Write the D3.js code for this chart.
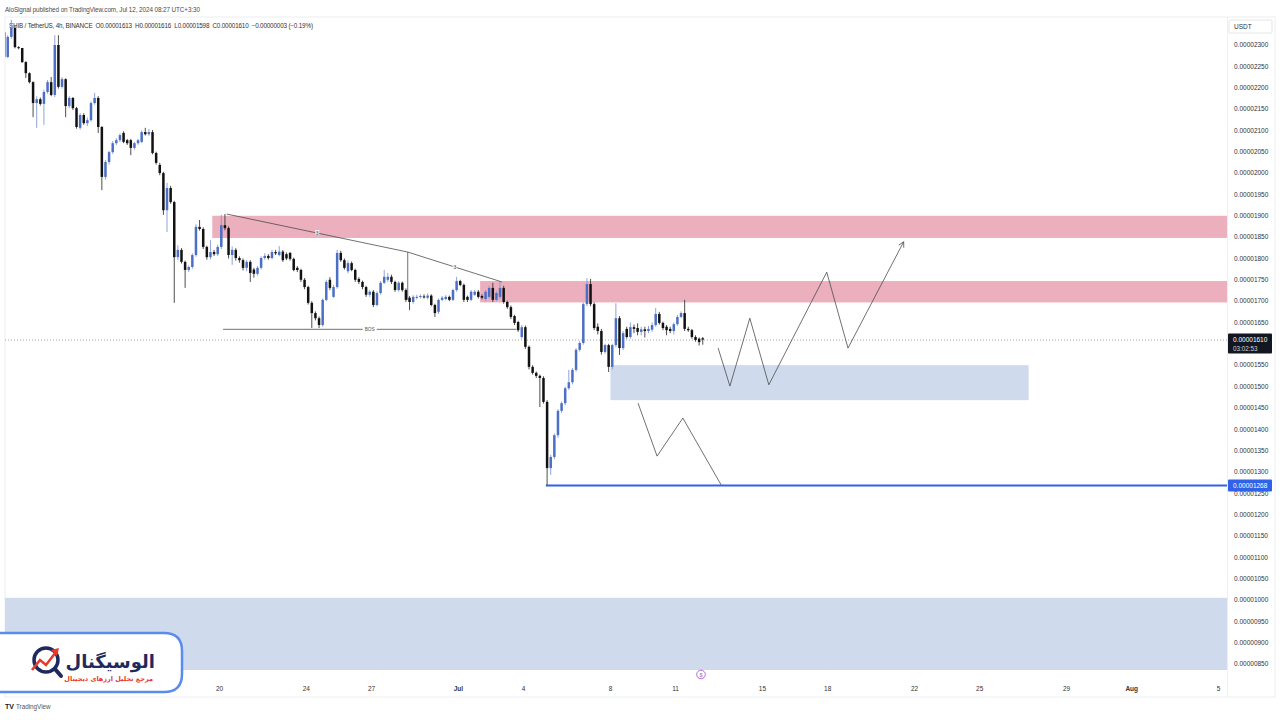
<!DOCTYPE html>
<html><head><meta charset="utf-8">
<script src="https://cdn.jsdelivr.net/npm/d3@7"></script>
<style>
body{margin:0;background:#fff;}
svg{display:block;font-family:"Liberation Sans","DejaVu Sans",sans-serif;}
</style>
</head><body>
<svg id="c" width="1280" height="720"></svg>
<script>
// ---------- DATA (prices in units of 1e-8 USDT) ----------
const UNIT = 1e-8;
const firstCandle = "2024-06-10T02:00:00Z";
const candleHours = 4;
const opens = [2330,2272,2319,2340,2295,2293,2260,2234,2213,2164,2173,2162,2190,2213,2183,2300,2202,2220,2157,2176,
2152,2106,2136,2117,2124,2164,2176,2108,1991,2026,2049,2070,2077,2094,2077,2077,2059,2070,2073,2096,
2091,2096,2047,2019,2000,1913,1965,1932,1803,1820,1792,1773,1780,1808,1874,1869,1827,1803,1815,1810,
1827,1878,1871,1808,1820,1801,1796,1778,1792,1774,1764,1778,1801,1806,1801,1815,1808,1816,1810,1813,
1799,1778,1773,1750,1733,1696,1672,1660,1644,1703,1750,1710,1733,1813,1796,1770,1789,1773,1752,1745,
1733,1715,1722,1691,1719,1743,1750,1757,1745,1726,1743,1726,1708,1698,1708,1710,1711,1708,1713,1691,
1675,1703,1705,1710,1703,1726,1747,1738,1710,1703,1715,1722,1712,1705,1710,1731,1703,1710,1731,1698,
1686,1665,1651,1616,1639,1593,1546,1532,1525,1520,1464,1309,1335,1386,1443,1461,1496,1510,1539,1586,
1602,1693,1740,1693,1640,1630,1581,1597,1546,1597,1660,1590,1635,1616,1639,1637,1628,1634,1630,1633,
1644,1670,1649,1640,1635,1630,1646,1663,1672,1635,1632,1616,1612,1613];
const highs = [2340,2323,2359,2345,2297,2293,2262,2236,2215,2180,2177,2195,2218,2225,2323,2323,2225,2222,2180,2178,
2155,2140,2140,2130,2168,2188,2180,2110,2030,2052,2075,2082,2093,2098,2080,2080,2073,2080,2100,2106,
2103,2101,2050,2024,2003,1977,1970,1935,1831,1824,1795,1784,1812,1880,1890,1873,1830,1843,1820,1832,
1902,1904,1875,1828,1824,1805,1800,1796,1796,1778,1782,1805,1812,1810,1820,1820,1829,1820,1814,1815,
1802,1782,1776,1754,1736,1700,1676,1664,1706,1750,1756,1738,1820,1818,1800,1795,1793,1776,1756,1748,
1736,1726,1726,1723,1747,1773,1766,1762,1748,1747,1746,1730,1712,1714,1715,1716,1716,1718,1716,1694,
1706,1712,1714,1713,1729,1757,1750,1741,1713,1726,1726,1726,1716,1726,1736,1743,1724,1745,1736,1701,
1690,1668,1654,1644,1643,1596,1550,1535,1528,1524,1468,1340,1390,1447,1465,1500,1539,1543,1590,1606,
1697,1754,1752,1697,1648,1635,1600,1600,1600,1695,1665,1630,1640,1650,1645,1648,1640,1640,1642,1650,
1684,1675,1652,1644,1640,1650,1668,1676,1703,1640,1635,1620,1615,1616];
const lows = [2269,2269,2315,2292,2290,2258,2223,2210,2131,2106,2158,2113,2186,2180,2178,2198,2198,2131,2152,2148,
2104,2102,2113,2110,2120,2160,2094,1960,1985,2020,2045,2066,2073,2070,2066,2042,2055,2066,2070,2088,
2087,2044,2020,1995,1902,1862,1928,1696,1796,1788,1731,1768,1776,1804,1865,1822,1797,1798,1806,1806,
1822,1866,1800,1785,1795,1790,1772,1770,1745,1755,1760,1774,1797,1797,1798,1808,1805,1792,1796,1795,
1770,1768,1745,1728,1692,1637,1655,1637,1640,1700,1726,1708,1729,1792,1774,1765,1770,1745,1740,1728,
1710,1710,1686,1688,1715,1740,1745,1740,1722,1722,1722,1698,1679,1694,1704,1706,1706,1704,1688,1663,
1670,1700,1702,1700,1700,1722,1735,1698,1698,1700,1712,1706,1704,1700,1706,1698,1700,1706,1694,1682,
1658,1644,1628,1612,1588,1540,1528,1520,1452,1460,1269,1293,1330,1380,1438,1456,1492,1505,1535,1582,
1598,1688,1688,1632,1622,1575,1577,1534,1540,1592,1574,1585,1612,1612,1625,1620,1620,1615,1625,1628,
1640,1645,1632,1620,1625,1622,1642,1660,1630,1628,1612,1605,1596,1598];
const closes = [2272,2319,2340,2295,2293,2260,2234,2213,2164,2173,2162,2190,2213,2183,2300,2202,2220,2157,2176,2152,
2108,2136,2117,2124,2164,2176,2108,1991,2026,2049,2070,2077,2089,2073,2070,2059,2070,2077,2096,2091,
2096,2047,2024,2000,1913,1965,1932,1803,1820,1792,1773,1780,1808,1874,1869,1827,1803,1815,1810,1827,
1878,1871,1808,1820,1801,1796,1778,1792,1766,1764,1778,1801,1806,1801,1815,1812,1816,1796,1800,1799,
1773,1773,1750,1733,1696,1672,1660,1644,1703,1745,1731,1733,1813,1796,1778,1789,1773,1750,1745,1733,
1715,1722,1691,1719,1743,1757,1757,1745,1726,1743,1726,1703,1698,1710,1710,1712,1710,1713,1691,1672,
1703,1708,1710,1703,1726,1747,1738,1703,1703,1722,1722,1710,1708,1722,1731,1703,1719,1731,1698,1686,
1663,1649,1632,1639,1593,1546,1532,1525,1520,1464,1309,1335,1386,1443,1461,1496,1510,1539,1586,1602,
1693,1740,1693,1637,1630,1581,1597,1546,1597,1660,1590,1625,1616,1639,1635,1628,1634,1630,1635,1644,
1670,1649,1637,1632,1630,1646,1663,1672,1635,1632,1616,1609,1604,1610];

const priceTicks = d3.range(850, 2301, 50);
const timeTicks = [["2024-06-20","20"],["2024-06-24","24"],["2024-06-27","27"],["2024-07-01","Jul"],["2024-07-04","4"],
  ["2024-07-08","8"],["2024-07-11","11"],["2024-07-15","15"],["2024-07-18","18"],["2024-07-22","22"],
  ["2024-07-25","25"],["2024-07-29","29"],["2024-08-01","Aug"],["2024-08-05","5"]];
const supplyFrom = ["2024-06-19T16:00Z","2024-07-02T00:00Z"];
const supplyTop = [1900, 1747];
const supplyBottom = [1848, 1697];
const demandZone = ["2024-07-08T00:00Z","2024-07-27T06:00Z", 1550, 1468];
const deepZone = [1005, 836];
const supportPrice = 1268;
const trendLine = [["2024-06-20T08:00Z",1904],["2024-06-28T16:00Z",1815],["2024-07-03T00:00Z",1745]];
const trendDrop = [["2024-06-28T16:00Z",1815],["2024-06-28T16:00Z",1703]];
const bosLine = [["2024-06-20T04:00Z",1634],["2024-07-03T16:00Z",1634]];
const pathUp = [["2024-07-12T23:00Z",1590],["2024-07-13T12:00Z",1501],["2024-07-14T10:00Z",1660],["2024-07-15T07:00Z",1504],
  ["2024-07-17T23:00Z",1768],["2024-07-18T22:30Z",1590],["2024-07-21T12:00Z",1839]];
const pathDown = [["2024-07-09T06:30Z",1461],["2024-07-10T03:30Z",1337],["2024-07-11T08:00Z",1426],["2024-07-13T03:00Z",1267]];
const header1 = "AloSignal published on TradingView.com, Jul 12, 2024 08:27 UTC+3:30";
const header2 = "SHIB / TetherUS, 4h, BINANCE  O0.00001613  H0.00001616  L0.00001598  C0.00001610  \u22120.00000003 (\u22120.19%)";

// ---------- LAYOUT ----------
const svg = d3.select("#c");
const paneL = 5, paneR = 1227, paneT = 17, paneB = 680;
const x = d3.scaleUtc().domain([new Date("2024-06-20T00:00:00Z"), new Date("2024-08-05T00:00:00Z")]).range([219.5, 1218.6]);
const y = d3.scaleLinear().domain([850, 2300]).range([664, 45]);
const fmt = v => (v*UNIT).toFixed(8);
const t0 = new Date(firstCandle).getTime();
const candles = opens.map((o,i)=>({t:new Date(t0 + i*candleHours*3600e3), o, h:highs[i], l:lows[i], c:closes[i]}));
const D = s => new Date(s);

svg.append("defs").append("clipPath").attr("id","pane").append("rect")
  .attr("x",paneL).attr("y",paneT).attr("width",paneR-paneL).attr("height",paneB-paneT);

// frame
svg.append("rect").attr("x",paneL).attr("y",paneT).attr("width",1275-paneL).attr("height",697-paneT)
  .attr("fill","none").attr("stroke","#eceef2").attr("stroke-width",1);
svg.append("line").attr("x1",paneR+0.5).attr("x2",paneR+0.5).attr("y1",paneT).attr("y2",697).attr("stroke","#eceef2");

// header
svg.append("text").attr("x",5).attr("y",12).attr("font-size",6.3).attr("fill","#4a4a4a").attr("textLength",195).text(header1);
svg.append("text").attr("x",9).attr("y",28).attr("font-size",6.3).attr("fill","#333").attr("textLength",304).attr("xml:space","preserve").text(header2);

const pane = svg.append("g").attr("clip-path","url(#pane)");

// zones
pane.append("rect").attr("x",paneL).attr("width",paneR-paneL).attr("y",y(deepZone[0])).attr("height",y(deepZone[1])-y(deepZone[0])).attr("fill","#cfdaec");
supplyFrom.forEach((f,i)=>{
  pane.append("rect").attr("x",x(D(f))).attr("width",paneR-x(D(f))).attr("y",y(supplyTop[i]))
    .attr("height",y(supplyBottom[i])-y(supplyTop[i])).attr("fill","#ebafbd");
});
pane.append("rect").attr("x",x(D(demandZone[0]))).attr("width",x(D(demandZone[1]))-x(D(demandZone[0])))
  .attr("y",y(demandZone[2])).attr("height",y(demandZone[3])-y(demandZone[2])).attr("fill","#cfdaec");

// current price dotted line
const last = candles[candles.length-1];
pane.append("line").attr("x1",paneL).attr("x2",paneR).attr("y1",y(last.c)+0.5).attr("y2",y(last.c)+0.5)
  .attr("stroke","#8a8d96").attr("stroke-dasharray","1,2").attr("stroke-width",0.8);

// drawings
const line = d3.line().x(d=>x(D(d[0]))).y(d=>y(d[1]));
const drawCol = "#4d4d4d";
[trendLine, trendDrop, bosLine, pathUp, pathDown].forEach(p=>{
  pane.append("path").attr("d",line(p)).attr("fill","none").attr("stroke",drawCol).attr("stroke-width",0.8);
});
// labels on trendline
for (let i=0;i<trendLine.length-1;i++){
  const mx=(x(D(trendLine[i][0]))+x(D(trendLine[i+1][0])))/2, my=(y(trendLine[i][1])+y(trendLine[i+1][1]))/2;
  pane.append("rect").attr("x",mx-2).attr("y",my-3).attr("width",4).attr("height",5).attr("fill","#fff").attr("opacity",0.8);
  pane.append("text").attr("x",mx).attr("y",my+1.8).attr("text-anchor","middle").attr("font-size",5).attr("fill","#444").text("3");
}
{
  const mx=(x(D(bosLine[0][0]))+x(D(bosLine[1][0])))/2, my=y(bosLine[0][1]);
  pane.append("rect").attr("x",mx-7).attr("y",my-3).attr("width",14).attr("height",5).attr("fill","#fff");
  pane.append("text").attr("x",mx).attr("y",my+1.8).attr("text-anchor","middle").attr("font-size",4.8).attr("fill","#555").text("BOS");
}
// arrowhead on projected path
{
  const a = pathUp[pathUp.length-2], b = pathUp[pathUp.length-1];
  const x1=x(D(a[0])), y1=y(a[1]), x2=x(D(b[0])), y2=y(b[1]);
  const ang=Math.atan2(y2-y1,x2-x1), L=6;
  [-0.5,0.5].forEach(da=>{
    pane.append("line").attr("x1",x2).attr("y1",y2).attr("x2",x2-L*Math.cos(ang+da)).attr("y2",y2-L*Math.sin(ang+da))
      .attr("stroke",drawCol).attr("stroke-width",0.8);
  });
}

// support line
let lowIdx = d3.minIndex(candles, d=>d.l);
const bw = 2.5;
pane.append("line").attr("x1",x(candles[lowIdx].t)-bw/2).attr("x2",paneR).attr("y1",y(supportPrice)).attr("y2",y(supportPrice))
  .attr("stroke","#2f62e8").attr("stroke-width",2);

// candles
const upC="#4c6fc6", dnC="#121212";
const cg = pane.append("g");
cg.selectAll("line.w").data(candles).join("line")
  .attr("x1",d=>x(d.t)).attr("x2",d=>x(d.t)).attr("y1",d=>y(d.h)).attr("y2",d=>y(d.l))
  .attr("stroke",d=>d.c>=d.o?"#8498d0":"#3a3a3a").attr("stroke-width",0.9);
cg.selectAll("rect.b").data(candles).join("rect")
  .attr("x",d=>x(d.t)-bw/2).attr("width",bw)
  .attr("y",d=>y(Math.max(d.o,d.c))).attr("height",d=>Math.max(1,Math.abs(y(d.o)-y(d.c))))
  .attr("fill",d=>d.c>=d.o?upC:dnC);

// price axis (labels hidden under the live-price tag, as in the original)
const ax = svg.append("g");
ax.append("rect").attr("x",1229).attr("y",20).attr("width",43).attr("height",13).attr("fill","#fff").attr("stroke","#e3e5ea").attr("rx",1);
ax.append("text").attr("x",1234).attr("y",29).attr("font-size",6.5).attr("fill","#333").text("USDT");
const cy = y(last.c);
ax.selectAll("text.p").data(priceTicks.filter(v=>Math.abs(y(v)-(cy+4))>12)).join("text")
  .attr("x",1234).attr("y",d=>y(d)+2.3).attr("font-size",6.5).attr("fill","#333").text(fmt);
// current price tag
ax.append("rect").attr("x",1228).attr("y",cy-6).attr("width",44).attr("height",20).attr("fill","#131722").attr("rx",1);
ax.append("text").attr("x",1233).attr("y",cy+2.5).attr("font-size",6.5).attr("fill","#fff").text(fmt(last.c));
ax.append("text").attr("x",1233).attr("y",cy+11).attr("font-size",6.3).attr("fill","#d0d3da").text("03:02:53");
// support tag
const sy = y(supportPrice);
ax.append("rect").attr("x",1228).attr("y",sy-6).attr("width",44).attr("height",12).attr("fill","#2f62e8").attr("rx",1);
ax.append("text").attr("x",1233).attr("y",sy+2.3).attr("font-size",6.5).attr("fill","#fff").text(fmt(supportPrice));

// time axis
const tx = svg.append("g");
tx.selectAll("text").data(timeTicks).join("text")
  .attr("x",d=>x(D(d[0]+"T00:00:00Z"))).attr("y",691).attr("text-anchor","middle").attr("font-size",6.5)
  .attr("font-weight",d=>isNaN(+d[1])?"bold":"normal").attr("fill","#333").text(d=>d[1]);
// event marker
svg.append("circle").attr("cx",701).attr("cy",674.5).attr("r",4.3).attr("fill","#fff").attr("stroke","#b05cc8").attr("stroke-width",0.9);
svg.append("text").attr("x",701).attr("y",676.8).attr("text-anchor","middle").attr("font-size",5.5).attr("fill","#b05cc8").text("$");

// footer
svg.append("text").attr("x",5).attr("y",709).attr("font-size",7).attr("font-weight","bold").attr("fill","#131722").text("TV");
svg.append("text").attr("x",16).attr("y",709).attr("font-size",6.3).attr("fill","#555").text("TradingView");

// logo badge
const lg = svg.append("g");
lg.append("path").attr("d","M-5,633 H164 Q182,633 182,651 V674 Q182,692 164,692 H-5 Z")
  .attr("fill","#fff").attr("stroke","#5a8cf0").attr("stroke-width",2.5);
// icon
lg.append("circle").attr("cx",46).attr("cy",660).attr("r",12).attr("fill","#fff").attr("stroke","#1e2a5e").attr("stroke-width",3.5);
lg.append("line").attr("x1",55).attr("y1",669).attr("x2",61).attr("y2",676).attr("stroke","#1e2a5e").attr("stroke-width",4).attr("stroke-linecap","round");
lg.append("path").attr("d","M32,670 L40,660 L46,665 L56,652").attr("fill","none").attr("stroke","#e8392a").attr("stroke-width",2.6);
lg.append("path").attr("d","M51,650 L59,648 L57,656 Z").attr("fill","#e8392a");
lg.append("text").attr("x",155).attr("y",668).attr("text-anchor","end").attr("font-family","DejaVu Sans")
  .attr("font-weight","bold").attr("font-size",18).attr("fill","#1e2a5e").text("الوسیگنال");
lg.append("text").attr("x",153).attr("y",681).attr("text-anchor","end").attr("font-family","DejaVu Sans")
  .attr("font-weight","bold").attr("font-size",6.5).attr("fill","#e8392a").text("مرجع تحلیل ارزهای دیجیتال");
</script>
</body></html>
